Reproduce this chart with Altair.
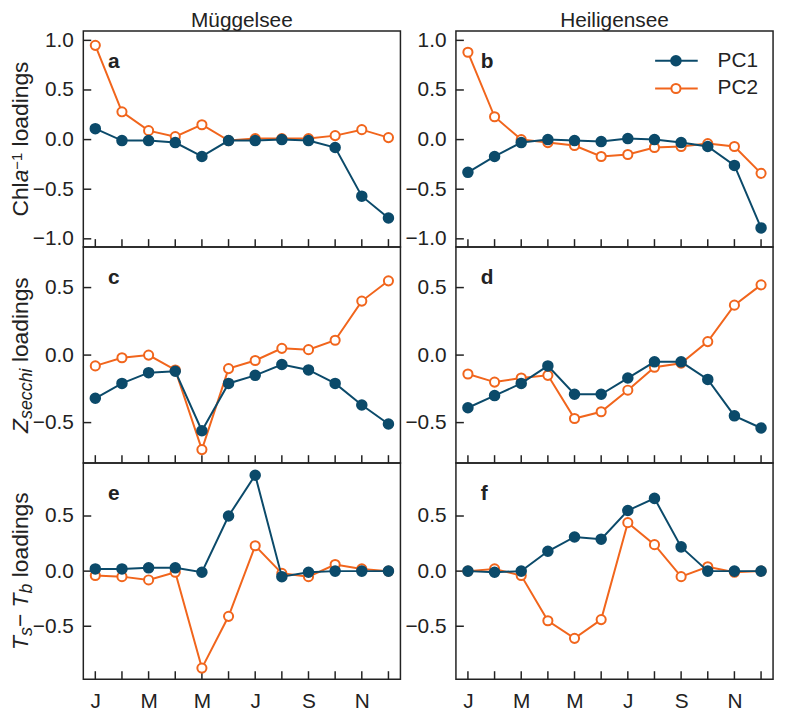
import altair as alt
import pandas as pd

MONTHS = list(range(1, 13))
MONTH_LABELS = ["J", "F", "M", "A", "M", "J", "J", "A", "S", "O", "N", "D"]
TICK_MONTHS = [1, 3, 5, 7, 9, 11]
LAKES = ["Müggelsee", "Heiligensee"]
SERIES = ["PC1", "PC2"]
PANEL_LETTERS = ["a", "b", "c", "d", "e", "f"]

# Chla^-1 loadings
MUG_CHLA_PC1 = [0.11, -0.01, -0.01, -0.03, -0.17, -0.01, -0.01, 0.0, -0.01, -0.08, -0.57, -0.79]
MUG_CHLA_PC2 = [0.95, 0.28, 0.09, 0.03, 0.15, -0.01, 0.01, 0.01, 0.01, 0.04, 0.10, 0.02]
HEI_CHLA_PC1 = [-0.33, -0.17, -0.03, 0.0, -0.01, -0.02, 0.01, 0.0, -0.03, -0.07, -0.26, -0.89]
HEI_CHLA_PC2 = [0.88, 0.23, 0.0, -0.03, -0.06, -0.17, -0.15, -0.08, -0.07, -0.04, -0.07, -0.34]
# Z_secchi loadings
MUG_ZS_PC1 = [-0.32, -0.21, -0.13, -0.12, -0.56, -0.21, -0.15, -0.07, -0.11, -0.21, -0.37, -0.51]
MUG_ZS_PC2 = [-0.08, -0.02, 0.0, -0.11, -0.70, -0.10, -0.04, 0.05, 0.04, 0.11, 0.40, 0.55]
HEI_ZS_PC1 = [-0.39, -0.30, -0.21, -0.08, -0.29, -0.29, -0.17, -0.05, -0.05, -0.18, -0.45, -0.54]
HEI_ZS_PC2 = [-0.14, -0.20, -0.17, -0.15, -0.47, -0.42, -0.26, -0.09, -0.06, 0.10, 0.37, 0.52]
# Ts - Tb loadings
MUG_DT_PC1 = [0.02, 0.02, 0.03, 0.03, -0.01, 0.50, 0.87, -0.05, -0.01, 0.0, 0.0, 0.0]
MUG_DT_PC2 = [-0.04, -0.05, -0.08, -0.01, -0.88, -0.41, 0.23, -0.02, -0.05, 0.06, 0.02, 0.0]
HEI_DT_PC1 = [0.0, -0.01, 0.0, 0.18, 0.31, 0.29, 0.55, 0.66, 0.22, 0.0, 0.0, 0.0]
HEI_DT_PC2 = [0.0, 0.02, -0.04, -0.45, -0.61, -0.44, 0.44, 0.24, -0.05, 0.04, -0.01, 0.0]

ROW_DATA = [
    [(MUG_CHLA_PC1, MUG_CHLA_PC2), (HEI_CHLA_PC1, HEI_CHLA_PC2)],
    [(MUG_ZS_PC1, MUG_ZS_PC2), (HEI_ZS_PC1, HEI_ZS_PC2)],
    [(MUG_DT_PC1, MUG_DT_PC2), (HEI_DT_PC1, HEI_DT_PC2)],
]
Y_DOMAINS = [[-1.083, 1.094], [-0.80, 0.80], [-0.98, 0.98]]
Y_TICKS = [[-1.0, -0.5, 0.0, 0.5, 1.0], [-0.5, 0.0, 0.5], [-0.5, 0.0, 0.5]]

# y-title pieces: (text, size, italic, baseline shift, gap before)
Y_TITLES = [
    [("Chl", 23, False, 0, 0), ("a", 23, True, 0, 0), ("−1", 15, False, -6, 0),
     ("loadings", 23, False, 0, 6.4)],
    [("Z", 23, True, 0, 0), ("secchi", 18, True, 4, 0), ("loadings", 23, False, 0, 6.4)],
    [("T", 23, True, 0, 0), ("s", 18, True, 4, 0), ("−", 23, False, 0, 0), ("T", 23, True, 0, 6.4),
     ("b", 18, True, 4, 0), ("loadings", 23, False, 0, 6.4)],
]

COLORS = {"PC1": "#0b4a6a", "PC2": "#f1651c"}
FONT = "Liberation Sans"
TXT = "#222222"
W, H = 320, 218
TICK_LEN = 8
TITLE_X = -56

ARIAL = {'C': 722, 'h': 556, 'l': 222, 'a': 556, ' ': 278, 'o': 556, 'd': 556, 'i': 222,
         'n': 556, 'g': 556, 's': 500, 'Z': 611, 'e': 556, 'c': 500, 'T': 611, 'b': 556,
         '−': 584, '1': 556}


def tw(t, size):
    return sum(ARIAL.get(ch, 556) for ch in t) * size / 1000.0


def one(text):
    return pd.DataFrame({"t": [text]})


label_js = "[" + ",".join("'%s'" % m for m in MONTH_LABELS) + "]"


def pc1_point(chart):
    return chart.mark_point(shape="circle", filled=True, color=COLORS["PC1"], size=135, opacity=1)


def pc2_point(chart):
    return chart.mark_point(shape="circle", filled=True, fill="white", stroke=COLORS["PC2"],
                            strokeWidth=2, size=85, opacity=1)


def panel(row, col):
    pc1, pc2 = ROW_DATA[row][col]
    df = pd.DataFrame({
        "month": MONTHS * 2,
        "value": list(pc1) + list(pc2),
        "series": [SERIES[0]] * 12 + [SERIES[1]] * 12,
    })
    bottom = row == 2
    xaxis = alt.Axis(values=TICK_MONTHS, labelExpr=label_js + "[round(datum.value)-1]",
                     ticks=False, domain=False, grid=False, title=None,
                     labelFontSize=21, labelFont=FONT, labelColor=TXT, labelPadding=12,
                     labelFlush=False) if bottom else None
    X = alt.X("month:Q", scale=alt.Scale(domain=[0.55, 12.45], nice=False, zero=False), axis=xaxis)
    Y = alt.Y("value:Q", scale=alt.Scale(domain=Y_DOMAINS[row], nice=False, zero=False),
              axis=alt.Axis(values=Y_TICKS[row], format=".1f", ticks=False, domain=False,
                            grid=False, title=None, labelFontSize=21, labelFont=FONT,
                            labelColor=TXT, labelPadding=10, labelFlush=False))
    base = alt.Chart(df)
    layers = []
    # x ticks (inward)
    layers.append(alt.Chart(pd.DataFrame({"month": MONTHS})).mark_rule(color=TXT, strokeWidth=1.5)
                  .encode(x=X, y=alt.value(H), y2=alt.value(H - TICK_LEN)))
    # y ticks (inward)
    layers.append(alt.Chart(pd.DataFrame({"value": Y_TICKS[row]})).mark_rule(color=TXT, strokeWidth=1.5)
                  .encode(y=Y, x=alt.value(0), x2=alt.value(TICK_LEN)))
    for s in ["PC2", "PC1"]:
        sub = base.transform_filter(alt.datum.series == s)
        layers.append(sub.mark_line(color=COLORS[s], strokeWidth=2).encode(x=X, y=Y))
        pt = pc1_point(sub) if s == "PC1" else pc2_point(sub)
        layers.append(pt.encode(x=X, y=Y))
    # panel letter
    letter = PANEL_LETTERS[row * 2 + col]
    layers.append(alt.Chart(one(letter)).mark_text(font=FONT, fontSize=21, fontWeight="bold",
                                                     align="left", baseline="alphabetic", color=TXT)
                  .encode(x=alt.value(25), y=alt.value(37), text="t:N"))
    # column title
    if row == 0:
        layers.append(alt.Chart(one(LAKES[col])).mark_text(font=FONT, fontSize=21, align="center",
                                                            baseline="alphabetic", color=TXT)
                      .encode(x=alt.value(W / 2), y=alt.value(-4), text="t:N"))
    # y title pieces (left column)
    if col == 0:
        pieces = Y_TITLES[row]
        total = sum(tw(t, sz) + gap for t, sz, _, _, gap in pieces)
        ycur = H / 2 + total / 2
        for t, sz, it, shift, gap in pieces:
            ycur -= gap
            layers.append(alt.Chart(one(t)).mark_text(font=FONT, fontSize=sz,
                                                       fontStyle="italic" if it else "normal",
                                                       angle=270, align="left", baseline="alphabetic",
                                                       color=TXT)
                          .encode(x=alt.value(TITLE_X + shift), y=alt.value(ycur), text="t:N"))
            ycur -= tw(t, sz)
    # legend (panel b)
    if row == 0 and col == 1:
        for i, s in enumerate(SERIES):
            ly = 30 + 28 * i
            src = alt.Chart(one(s))
            layers.append(src.mark_rule(color=COLORS[s], strokeWidth=2)
                          .encode(x=alt.value(201), x2=alt.value(244), y=alt.value(ly)))
            pt = pc1_point(src) if s == "PC1" else pc2_point(src)
            layers.append(pt.encode(x=alt.value(222), y=alt.value(ly)))
            layers.append(src.mark_text(font=FONT, fontSize=21, align="left",
                                        baseline="middle", color=TXT)
                          .encode(x=alt.value(264), y=alt.value(ly), text="t:N"))
    return alt.layer(*layers).properties(width=W, height=H)


panels = [panel(r, c) for r in range(3) for c in range(2)]

chart = alt.concat(*panels, columns=2, spacing={"row": 0, "column": 56}, bounds="flush").properties(
    padding={"left": 1, "top": -2, "right": 5, "bottom": 5}
).configure(background="white").configure_view(stroke=TXT, strokeWidth=1.5)

chart.save("out.html", embed_options={"renderer": "svg", "actions": False})
